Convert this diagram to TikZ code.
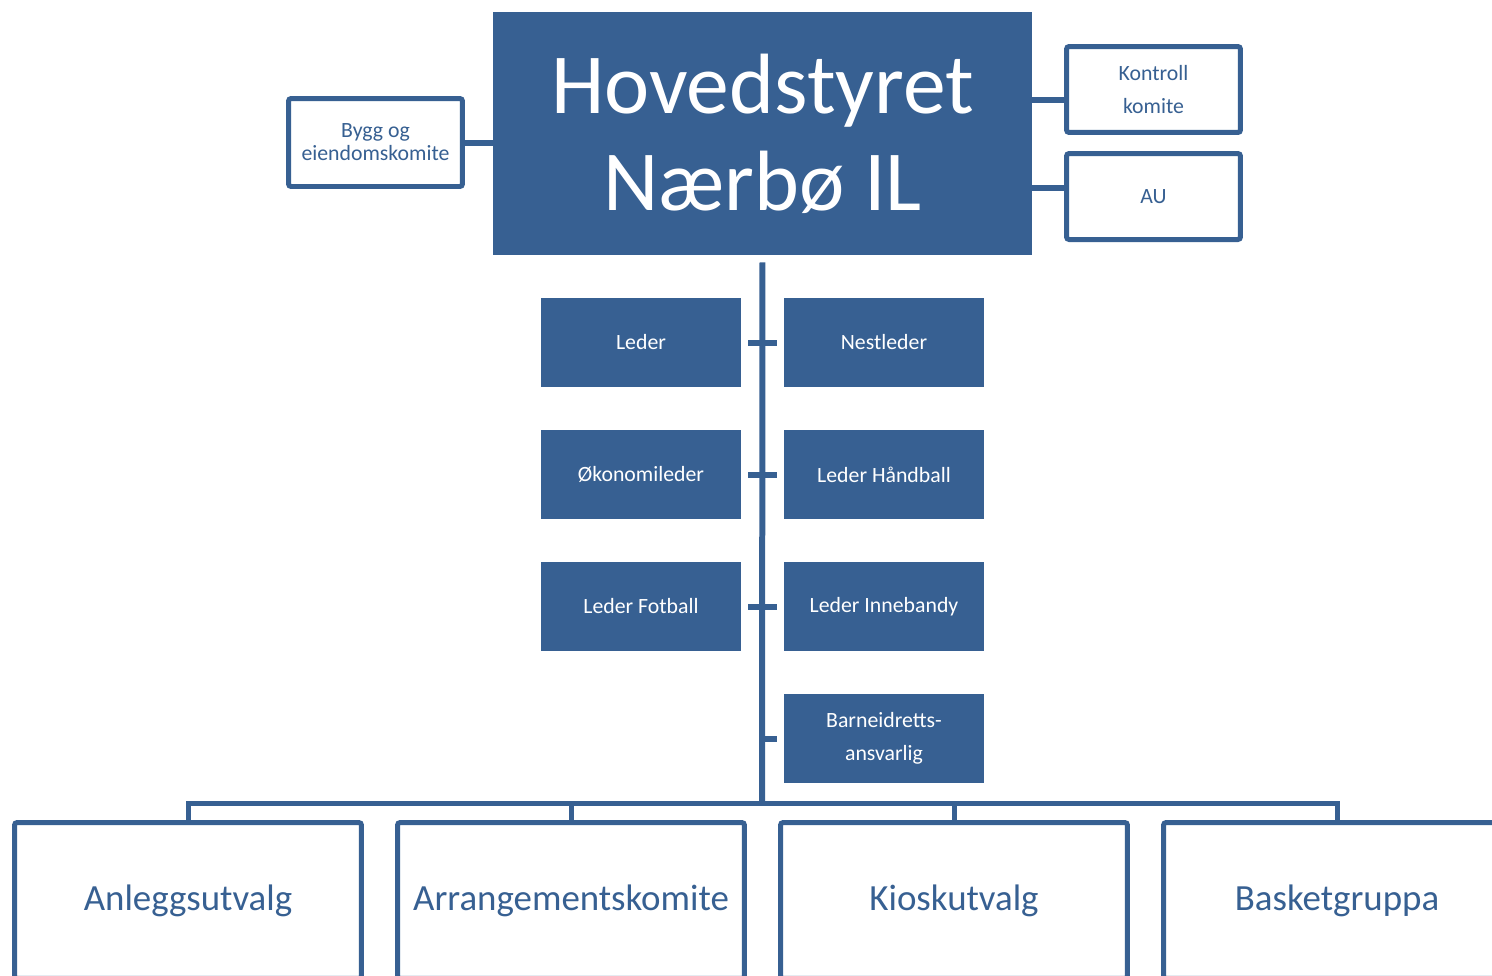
\documentclass[tikz,border=0pt]{standalone}
\usepackage{fontspec}
\setmainfont{Carlito}
\usepackage{tikz}
\usetikzlibrary{calc,positioning}
\definecolor{azul}{RGB}{55,96,146}
\tikzstyle{edge}  =[draw=azul, line width=0.12cm]
\tikzstyle{tbox}  =[rectangle, fill=azul, text=white, inner sep=0pt,
                    minimum width=4cm, minimum height=1.78cm, align=center,
                    font=\fontsize{12.4pt}{18.8pt}\selectfont]
\tikzstyle{wbox}  =[rectangle, draw=azul, fill=white, text=azul,
                    line width=0.1cm, rounded corners=1.5pt, inner sep=0pt,
                    minimum width=3.48cm, minimum height=1.72cm, align=center,
                    font=\fontsize{12.4pt}{18.8pt}\selectfont]
\tikzstyle{Bbox}  =[wbox, minimum width=6.94cm, minimum height=3.12cm,
                    font=\fontsize{21pt}{25pt}\selectfont]

\begin{document}
\begin{tikzpicture}[x=0.02cm,y=-0.02cm]
    \useasboundingbox (0,0) rectangle (1492,975);
    \clip (0,0) rectangle (1492,975);

    % top
    \draw (762.5,133.5) node (hoved) [rectangle, fill=azul, text=white,
        minimum width=10.78cm, minimum height=4.86cm, align=center,
        font=\fontsize{48.7pt}{55.2pt}\selectfont] {Hovedstyret\\Nærbø IL};
    \draw (375.5,142.5) node (bygg) [wbox, minimum height=1.76cm,
        font=\fontsize{12.4pt}{13.1pt}\selectfont] {Bygg og\\eiendomskomite};
    \draw (1153.5,89.5) node (kontroll) [wbox] {Kontroll\\komite};
    \draw (1153.5,196.5) node (au) [wbox] {AU};

    \draw[edge] (bygg.east) -- (bygg.east -| hoved.west);
    \draw[edge] ([yshift=-0.2cm]kontroll.west -| hoved.east) -- ([yshift=-0.2cm]kontroll.west);
    \draw[edge] ([yshift=0.17cm]au.west -| hoved.east) -- ([yshift=0.17cm]au.west);

    % styret
    \draw (641,342.5) node (leder) [tbox] {Leder};
    \draw (884,342.5) node (nestleder) [tbox] {Nestleder};
    \draw (641,474.5) node (okonomi) [tbox] {Økonomileder};
    \draw (884,474.5) node (handball) [tbox] {Leder Håndball};
    \draw (641,606.5) node (fotball) [tbox] {Leder Fotball};
    \draw (884,606.5) node (innebandy) [tbox] {Leder Innebandy};
    \draw (884,738.5) node (barne) [tbox] {Barneidretts-\\ansvarlig};

    \coordinate (bus) at (762,803);
    \draw[edge, shorten <=0.14cm] (hoved.south) -- (bus);
    \foreach \i/\j in {leder/nestleder,okonomi/handball,fotball/innebandy}
        \draw[edge, shorten <=0.14cm, shorten >=0.14cm] (\i.east) -- (\j.west);
    \draw[edge, shorten >=0.14cm] (barne.west -| bus) -- (barne.west);

    % utvalg
    \draw (188,900.5) node (anlegg) [Bbox] {Anleggsutvalg};
    \draw (571,900.5) node (arrangement) [Bbox] {Arrangementskomite};
    \draw (954,900.5) node (kiosk) [Bbox] {Kioskutvalg};
    \draw (1337,900.5) node (basket) [Bbox] {Basketgruppa};

    \foreach \i in {anlegg,arrangement,kiosk,basket}
        \draw[edge, line width=0.1cm] (bus) -| (\i.north);

\end{tikzpicture}
\end{document}
